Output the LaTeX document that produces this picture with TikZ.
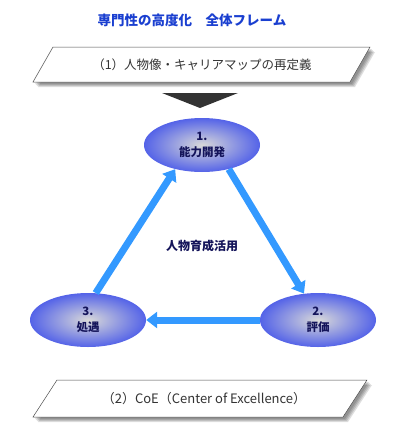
\documentclass[tikz,border=0pt]{standalone}
\usepackage{fontspec}
\setmainfont{Noto Sans CJK JP}
\usetikzlibrary{arrows.meta,positioning,shapes.geometric}

\begin{document}
\begin{tikzpicture}[
  x=1pt, y=-1pt,
  >=Latex,
  banner/.style={draw=black!70, line width=.5pt, fill=white},
  bannertext/.style={font=\fontsize{12.5}{14}\selectfont, text=black!80},
  blur/.style={fill=black, opacity=.13, draw=none},
  stage/.style={ellipse, minimum width=116pt, minimum height=54pt, inner sep=0pt,
    shading=radial, inner color=black!15, outer color=bblue, align=center,
    font=\fontsize{11.5}{16}\selectfont\bfseries, text=tnavy},
  flow/.style={-{Triangle[length=11pt,width=16pt]}, draw=aarrow, line width=7pt}
]
\definecolor{ttitle}{HTML}{1A3FD0}
\definecolor{tnavy}{HTML}{14145A}
\definecolor{bblue}{HTML}{5463E8}
\definecolor{aarrow}{HTML}{3399FF}

\useasboundingbox (0,0) rectangle (410,442);

\node[font=\fontsize{13.5}{16}\selectfont\bfseries, text=ttitle] (title) at (192,20)
  {専門性の高度化　全体フレーム};

% top banner with soft shadow
\foreach \s in {2,3,4,5}
  \fill[blur] (53+\s,47+\s) -- (370+\s,47+\s) -- (350+\s,82+\s) -- (33+\s,82+\s) -- cycle;
\draw[banner] (53,47) -- (370,47) -- (350,82) -- (33,82) -- cycle;
\node[bannertext] (redef) at (202,65) {（1）人物像・キャリアマップの再定義};

\fill[black!80] (162,93) -- (238,93) -- (200,108) -- cycle;

\node[stage] (dev) at (202,145) {1.\\能力開発};
\node[stage] (eval) at (318,320) {2.\\評価};
\node[stage] (treat) at (88,320) {3.\\処遇};

\node[font=\fontsize{12}{14}\selectfont\bfseries, text=tnavy] (core) at (202,246)
  {人物育成活用};

\draw[flow] (treat.74) -- (dev.222);
\draw[flow] (dev.318) -- (eval.118);
\draw[flow] (eval.west) -- (treat.east);

% bottom banner with soft shadow
\foreach \s in {2,3,4,5}
  \fill[blur] (57+\s,380+\s) -- (367+\s,380+\s) -- (343+\s,417+\s) -- (33+\s,417+\s) -- cycle;
\draw[banner] (57,380) -- (367,380) -- (343,417) -- (33,417) -- cycle;
\node[bannertext, font=\fontsize{13}{14}\selectfont] (coe) at (204,399)
  {（2）CoE（Center of Excellence）};
\end{tikzpicture}
\end{document}
